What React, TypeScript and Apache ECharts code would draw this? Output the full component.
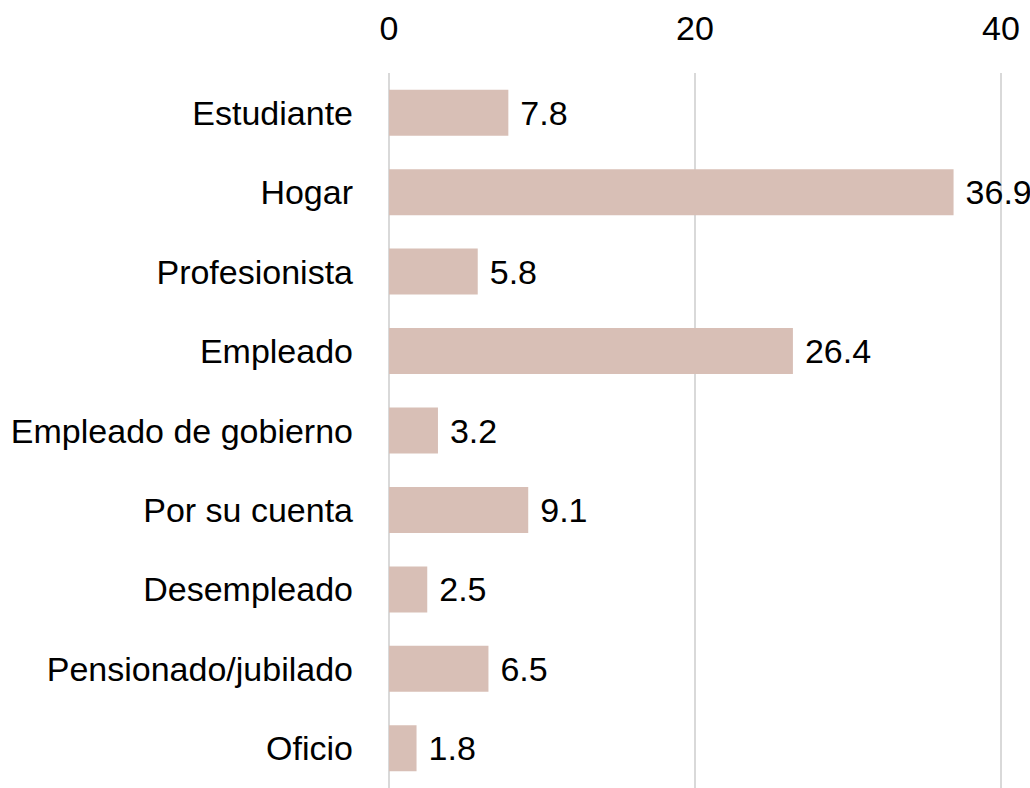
import React, { useEffect, useRef } from "react";
import * as echarts from "echarts";

const categories = [
  "Estudiante",
  "Hogar",
  "Profesionista",
  "Empleado",
  "Empleado de gobierno",
  "Por su cuenta",
  "Desempleado",
  "Pensionado/jubilado",
  "Oficio",
];
const values = [7.8, 36.9, 5.8, 26.4, 3.2, 9.1, 2.5, 6.5, 1.8];
const axisMin = 0;
const axisMax = 40;
const axisInterval = 20;

const FONT = "'Liberation Sans', Arial, sans-serif";

export default function App() {
  const ref = useRef<HTMLDivElement>(null);
  useEffect(() => {
    if (!ref.current) return;
    const chart = echarts.init(ref.current, null, { renderer: "svg" });
    chart.setOption({
      animation: false,
      backgroundColor: "#ffffff",
      grid: { left: 389, right: 29, top: 73, bottom: 0, containLabel: false },
      xAxis: {
        type: "value",
        position: "top",
        min: axisMin,
        max: axisMax,
        interval: axisInterval,
        axisLine: { show: false },
        axisTick: { show: false },
        axisLabel: {
          color: "#000",
          fontSize: 34,
          fontFamily: FONT,
          margin: 28,
        },
        splitLine: { show: true, lineStyle: { color: "#d9d9d9", width: 2 } },
      },
      yAxis: {
        type: "category",
        data: categories,
        inverse: true,
        axisLine: { show: false },
        axisTick: { show: false },
        axisLabel: {
          color: "#000",
          fontSize: 34,
          fontFamily: FONT,
          margin: 36,
        },
      },
      series: [
        {
          type: "bar",
          data: values,
          barWidth: 46,
          itemStyle: { color: "#d8bfb6" },
          label: {
            show: true,
            position: "right",
            distance: 12,
            color: "#000",
            fontSize: 34,
            fontFamily: FONT,
          },
        },
      ],
    });
    return () => chart.dispose();
  }, []);
  return (
    <div
      ref={ref}
      style={{ position: "fixed", left: 0, top: 0, width: 1030, height: 788 }}
    />
  );
}
